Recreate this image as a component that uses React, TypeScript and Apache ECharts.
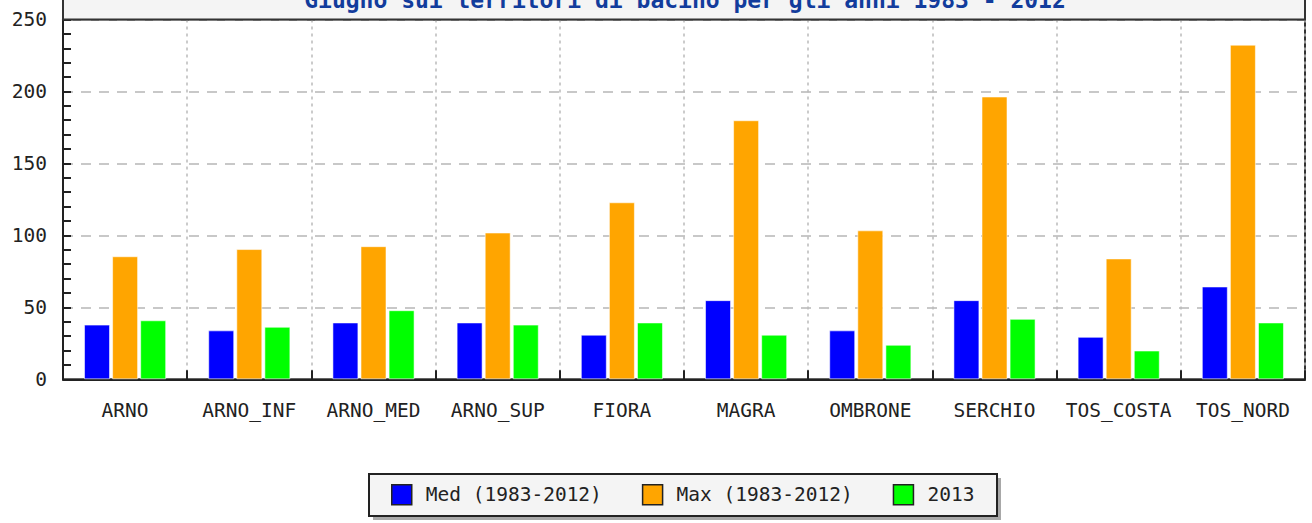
import React, { useEffect, useRef } from "react";
import * as echarts from "echarts";

const categories = ["ARNO", "ARNO_INF", "ARNO_MED", "ARNO_SUP", "FIORA", "MAGRA", "OMBRONE", "SERCHIO", "TOS_COSTA", "TOS_NORD"];
const medValues = [38, 34, 39.5, 39.5, 31, 55, 34, 55, 29.5, 64.5];
const maxValues = [85.5, 90.5, 92.5, 102, 123, 180, 103.5, 196.5, 84, 232.5];
const values2013 = [41, 36.5, 48, 38, 39.5, 31, 24, 42, 20, 39.5];
const seriesNames = ["Med (1983-2012)", "Max (1983-2012)", "2013"];
const titleText = "Giugno sui territori di bacino per gli anni 1983 - 2012";

const FONT = "DejaVu Sans Mono";

export default function App() {
  const ref = useRef<HTMLDivElement>(null);
  useEffect(() => {
    if (!ref.current) return;
    const chart = echarts.init(ref.current, null, { renderer: "svg" });
    const barStyle = (color: string) => ({
      color,
      borderColor: "rgba(255,255,255,0.55)",
      borderWidth: 1,
    });
    chart.setOption({
      animation: false,
      backgroundColor: "#ffffff",
      textStyle: { fontFamily: FONT },
      grid: {
        left: 63,
        right: 7,
        top: 19.5,
        bottom: 143.7,
        show: true,
        borderColor: "#333333",
        borderWidth: 2,
        backgroundColor: "transparent",
      },
      xAxis: {
        type: "category",
        data: categories,
        boundaryGap: true,
        axisLine: { lineStyle: { color: "#222222", width: 2 } },
        axisTick: { show: true, inside: true, length: 9, alignWithLabel: false, lineStyle: { color: "#222222", width: 2 } },
        axisLabel: { fontFamily: FONT, fontSize: 19.5, color: "#222222", margin: 21, interval: 0 },
        splitLine: { show: true, interval: 0, lineStyle: { color: "#bbbbbb", width: 1.5, type: [3, 4] } },
      },
      yAxis: {
        type: "value",
        min: 0,
        max: 250,
        interval: 50,
        axisLine: { show: true, lineStyle: { color: "#222222", width: 2 } },
        axisTick: { show: true, inside: true, length: 8, lineStyle: { color: "#222222", width: 2 } },
        minorTick: { show: true, splitNumber: 5, length: 8, lineStyle: { color: "#222222", width: 2 } },
        axisLabel: { fontFamily: FONT, fontSize: 19.5, color: "#222222", margin: 16 },
        splitLine: { show: true, lineStyle: { color: "#c8c8c8", width: 2, type: [10, 8] } },
      },
      legend: {
        data: seriesNames,
        left: 391,
        top: 484,
        padding: 0,
        itemWidth: 20,
        itemHeight: 20,
        itemGap: 40,
        icon: "rect",
        itemStyle: { borderColor: "#222222", borderWidth: 1.5 },
        textStyle: { fontFamily: FONT, fontSize: 19.5, color: "#222222", padding: [0, 0, 0, 9] },
      },
      graphic: [
        {
          type: "rect",
          z: 0,
          silent: true,
          shape: { x: 373, y: 478, width: 628, height: 42 },
          style: { fill: "#a8a8a8" },
        },
        {
          type: "rect",
          z: 1,
          silent: true,
          shape: { x: 369, y: 474, width: 628, height: 42 },
          style: { fill: "#f4f4f4", stroke: "#222222", lineWidth: 2 },
        },
        {
          type: "rect",
          z: 1,
          silent: true,
          shape: { x: 63, y: -40, width: 1242, height: 59.5 },
          style: { fill: "#f4f4f4", stroke: "#333333", lineWidth: 2 },
        },
        {
          type: "text",
          z: 2,
          silent: true,
          x: 685,
          y: 0,
          style: {
            text: titleText,
            fontFamily: FONT,
            fontWeight: "bold",
            fontSize: 23,
            fill: "#123c9c",
            align: "center",
            verticalAlign: "middle",
          },
        },
      ],
      series: [
        { name: seriesNames[0], type: "bar", data: medValues, barWidth: 26, barGap: "8%", itemStyle: barStyle("#0000ff") },
        { name: seriesNames[1], type: "bar", data: maxValues, barWidth: 26, barGap: "8%", itemStyle: barStyle("#ffa500") },
        { name: seriesNames[2], type: "bar", data: values2013, barWidth: 26, barGap: "8%", itemStyle: barStyle("#00ff00") },
      ],
    });
    return () => chart.dispose();
  }, []);
  return (
    <div
      ref={ref}
      style={{ position: "fixed", left: 0, top: 0, width: 1312, height: 523 }}
    />
  );
}
